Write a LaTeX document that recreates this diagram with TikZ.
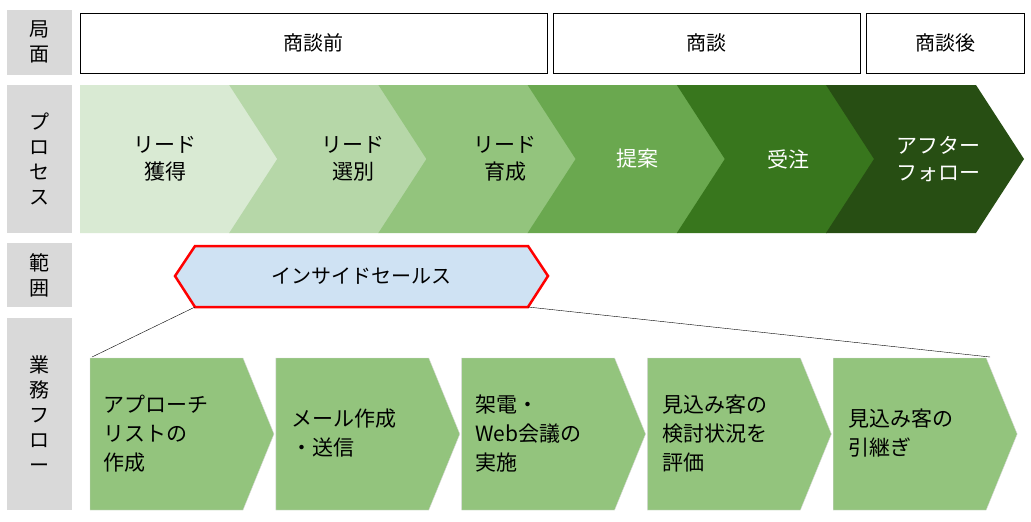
\documentclass[tikz,border=0pt]{standalone}
\usepackage{fontspec}
\setmainfont{Noto Sans CJK JP}
\usetikzlibrary{positioning, calc}

\definecolor{labelgray}{HTML}{D9D9D9}
\definecolor{flowgreen}{HTML}{93C47D}
\definecolor{rangeblue}{HTML}{CFE2F3}
\definecolor{pA}{HTML}{D9EAD3}
\definecolor{pB}{HTML}{B6D7A8}
\definecolor{pC}{HTML}{93C47D}
\definecolor{pD}{HTML}{6AA84F}
\definecolor{pE}{HTML}{38761D}
\definecolor{pF}{HTML}{274E13}

\begin{document}
\begin{tikzpicture}[x=1pt,y=-1pt,font=\fontsize{20}{25}\selectfont]
\tikzstyle{rowlabel}=[fill=labelgray, minimum width=65pt, inner sep=0pt, align=center]
\tikzstyle{phase}=[draw=black, fill=white, thin, inner sep=0pt]
\tikzstyle{proctext}=[align=center, font=\fontsize{21}{27}\selectfont]
\tikzstyle{flowtext}=[align=left, anchor=west, font=\fontsize{21}{29}\selectfont]

\useasboundingbox (0,0) rectangle (1031,522);

% row labels
\node[rowlabel, minimum height=65pt] (phase label) at (39.5,42) {局\\面};
\node[rowlabel, minimum height=148pt] (process label) at (39.5,159) {プ\\ロ\\セ\\ス};
\node[rowlabel, minimum height=64pt] (range label) at (39.5,275) {範\\囲};
\node[rowlabel, minimum height=192pt] (flow label) at (39.5,414) {業\\務\\フ\\ロ\\ー};

% phases
\node[phase, minimum width=467pt, minimum height=60pt] (before) at (313.5,43) {商談前};
\node[phase, minimum width=307pt, minimum height=60pt] (meeting) at (706.5,43) {商談};
\node[phase, minimum width=158pt, minimum height=60pt] (after) at (945,43) {商談後};

% process chevrons
\foreach \i/\col in {0/pA,1/pB,2/pC,3/pD,4/pE,5/pF} {
    \pgfmathsetmacro{\xo}{80+149.2*\i}
    \ifnum\i=0
      \fill[\col] (\xo,85) -- ++(150,0) -- ++(48,74) -- ++(-48,74) -- ++(-150,0) -- cycle;
    \else
      \fill[\col] (\xo,85) -- ++(150,0) -- ++(48,74) -- ++(-48,74) -- ++(-150,0) -- ++(48,-74) -- cycle;
    \fi
};
\node[proctext] (lead get) at (165,159) {リード\\獲得};
\node[proctext] (lead select) at (353,159) {リード\\選別};
\node[proctext] (lead nurture) at (505,159) {リード\\育成};
\node[proctext, text=white] (proposal) at (637,159) {提案};
\node[proctext, text=white] (order) at (788,159) {受注};
\node[proctext, text=white] (aftercare) at (938,159) {アフター\\フォロー};

% range
\draw[red, line width=2.5pt, fill=rangeblue] (175,276) -- (195,246) -- (528,246) -- (548,276) -- (528,307) -- (195,307) -- cycle;
\node (inside sales) at (361,276) {インサイドセールス};
\coordinate (range left) at (195,307);
\coordinate (range right) at (528,307);

% work flow
\foreach \i in {0,...,4} {
    \pgfmathsetmacro{\xo}{90+185.8*\i}
    \draw[labelgray, fill=flowgreen] (\xo,358) -- ++(153,0) -- ++(31,76) -- ++(-31,76) -- ++(-153,0) -- cycle;
};
\coordinate (flow left) at (92,357);
\coordinate (flow right) at (990,357);
\draw (range left) -- (flow left);
\draw (range right) -- (flow right);

\node[flowtext] (approach) at (100,434) {アプローチ\\リストの\\作成};
\node[flowtext] (mail) at (288,433) {メール作成\\・送信};
\node[flowtext] (call) at (472,434) {架電・\\Web会議の\\実施};
\node[flowtext] (evaluate) at (659,434) {見込み客の\\検討状況を\\評価};
\node[flowtext] (handover) at (845,433) {見込み客の\\引継ぎ};
\end{tikzpicture}
\end{document}
